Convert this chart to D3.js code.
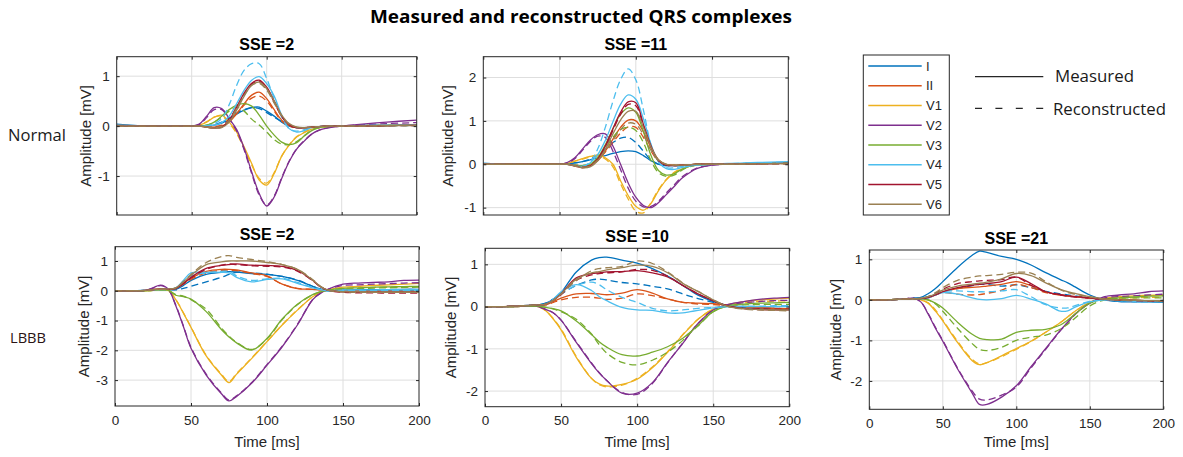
<!DOCTYPE html>
<html><head><meta charset="utf-8">
<script src="https://cdn.jsdelivr.net/npm/d3@7/dist/d3.min.js"></script>
<style>body{margin:0;background:#fff}</style>
</head><body>
<svg id="chart" width="1183" height="457"></svg>
<script>
// ---------- data ----------
const leads = ["I","II","V1","V2","V3","V4","V5","V6"];
const leadColors = ["#0072BD","#D95319","#EDB120","#7E2F8E","#77AC30","#4DBEEE","#A2142F","#9A8052"];
const xTicks = [0,50,100,150,200];
const timeNormal = [0,20,40,50,55,60,65,70,75,80,85,90,95,100,105,110,115,120,125,130,135,140,150,160,180,200];
const timeLBBB = [0,10,20,25,30,35,40,45,50,60,70,75,80,90,100,110,120,130,135,140,150,160,170,180,190,200];

// Normal, SSE = 2
const normalSSE2Measured = [
 [0.04,0,0,0,0,0,0.02,0.06,0.14,0.24,0.32,0.37,0.38,0.3,0.2,0.08,0,-0.03,-0.03,-0.02,-0.01,0,0,0,0.01,0.02],
 [0.02,0,0,0,0,-0.01,-0.02,0,0.08,0.25,0.45,0.62,0.68,0.55,0.33,0.12,0.01,-0.03,-0.03,-0.02,-0.01,0,0,0,0.01,0.02],
 [0.01,0,0,0,0.02,0.08,0.18,0.22,0.08,-0.12,-0.42,-0.75,-1.08,-1.18,-0.95,-0.6,-0.38,-0.22,-0.13,-0.06,-0.03,-0.01,0,0.01,0.02,0.03],
 [0,0,0,0,0.04,0.2,0.37,0.35,0.15,-0.07,-0.45,-0.92,-1.35,-1.6,-1.42,-1.05,-0.71,-0.46,-0.3,-0.16,-0.08,-0.04,0,0.03,0.08,0.12],
 [0,0,0,0,0,0.02,0.08,0.2,0.33,0.42,0.45,0.4,0.22,0,-0.18,-0.32,-0.37,-0.33,-0.2,-0.09,-0.03,-0.01,0,0,0.01,0.02],
 [0.02,0,0,0,0,0,0.02,0.07,0.2,0.45,0.72,0.92,0.99,0.85,0.6,0.22,-0.05,-0.12,-0.09,-0.03,-0.01,0,0,0.01,0.02,0.03],
 [0,0,0,0,0,-0.02,-0.04,-0.02,0.12,0.38,0.66,0.86,0.92,0.78,0.5,0.2,0.03,-0.03,-0.03,-0.02,-0.01,0,0,0,0.01,0.02],
 [0,0,0,0,0,-0.02,-0.04,-0.03,0.08,0.32,0.6,0.82,0.88,0.75,0.5,0.22,0.05,-0.02,-0.03,-0.02,-0.01,0,0,0,0.01,0.02]
];
const normalSSE2Reconstructed = [
 [0.02,0,0,0,0,0.01,0.03,0.08,0.16,0.26,0.33,0.37,0.35,0.27,0.18,0.09,0.01,-0.03,-0.03,-0.02,-0.01,0,0,0.01,0.02,0.02],
 [0.01,0,0,0,0,-0.01,-0.01,0.02,0.1,0.25,0.42,0.56,0.6,0.5,0.3,0.1,0,-0.03,-0.03,-0.02,-0.01,0,0,0.01,0.02,0.02],
 [0,0,0,0,0.02,0.09,0.18,0.2,0.06,-0.15,-0.45,-0.78,-1.05,-1.14,-0.93,-0.6,-0.37,-0.21,-0.12,-0.06,-0.03,-0.01,0,0.01,0.02,0.02],
 [0,0,0,0,0.03,0.17,0.33,0.33,0.14,-0.1,-0.48,-0.95,-1.38,-1.58,-1.4,-1.03,-0.7,-0.45,-0.29,-0.16,-0.08,-0.04,0,0.02,0.05,0.07],
 [0,0,0,0,0,0.02,0.08,0.18,0.3,0.38,0.3,0.14,0.02,-0.12,-0.27,-0.36,-0.37,-0.31,-0.19,-0.08,-0.03,-0.01,0,0,0.01,0.01],
 [0.01,0,0,0,0,0.01,0.05,0.15,0.43,0.82,1.12,1.25,1.25,0.95,0.55,0.18,-0.05,-0.1,-0.07,-0.03,-0.01,0,0,0,0.01,0.01],
 [0,0,0,0,0,-0.02,-0.03,0,0.14,0.38,0.64,0.84,0.9,0.76,0.48,0.19,0.03,-0.03,-0.03,-0.02,-0.01,0,0,0,0.01,0.01],
 [0,0,0,0,0,-0.02,-0.03,0,0.12,0.36,0.62,0.82,0.86,0.72,0.46,0.2,0.04,-0.02,-0.03,-0.02,-0.01,0,0,0,0.01,0.01]
];

// Normal, SSE = 11
const normalSSE11Measured = [
 [0.02,0,0,0,0.01,0.03,0.06,0.1,0.15,0.2,0.25,0.29,0.31,0.29,0.2,0.08,0,-0.03,-0.03,-0.02,-0.01,0,0,0.01,0.02,0.03],
 [0.01,0,0,0,0,-0.02,-0.04,-0.02,0.08,0.3,0.58,0.85,1.02,1.0,0.75,0.38,0.1,0,-0.02,-0.02,-0.01,0,0,0.01,0.02,0.03],
 [0,0,0,0,0.02,0.07,0.13,0.18,0.21,0.15,0,-0.38,-0.72,-0.97,-1.06,-0.9,-0.6,-0.36,-0.2,-0.11,-0.05,-0.02,0,0.01,0.02,0.03],
 [0,0,0,0,0.04,0.15,0.35,0.55,0.68,0.7,0.42,0,-0.43,-0.76,-0.95,-1.0,-0.88,-0.7,-0.52,-0.33,-0.2,-0.1,-0.02,0,0.02,0.04],
 [0.01,0,0,0,0,-0.02,-0.03,0,0.15,0.45,0.82,1.15,1.3,1.2,0.75,0.2,-0.15,-0.25,-0.22,-0.12,-0.05,-0.02,0,0.01,0.02,0.03],
 [0.02,0,0,0,0,-0.03,-0.05,0.03,0.22,0.55,0.98,1.38,1.6,1.5,1.05,0.45,0.05,-0.1,-0.12,-0.08,-0.04,-0.02,0,0.02,0.04,0.06],
 [0,0,0,0,0,-0.04,-0.08,-0.04,0.12,0.42,0.82,1.2,1.44,1.42,0.92,0.42,0.08,-0.02,-0.03,-0.02,-0.01,0,0,0,0.01,0.02],
 [0,0,0,0,0,-0.04,-0.08,-0.06,0.08,0.35,0.7,1.02,1.22,1.22,0.85,0.4,0.1,0,-0.02,-0.02,-0.01,0,0,0,0.01,0.02]
];
const normalSSE11Reconstructed = [
 [0.01,0,0,0,0.01,0.03,0.06,0.12,0.22,0.35,0.5,0.6,0.62,0.5,0.3,0.1,0,-0.03,-0.03,-0.02,-0.01,0,0,0.01,0.02,0.02],
 [0.01,0,0,0,0,-0.02,-0.03,0,0.1,0.28,0.5,0.72,0.86,0.85,0.62,0.3,0.07,-0.01,-0.02,-0.02,-0.01,0,0,0.01,0.02,0.02],
 [0,0,0,0,0.02,0.07,0.12,0.17,0.19,0.12,-0.06,-0.45,-0.8,-1.08,-1.12,-0.88,-0.58,-0.35,-0.19,-0.1,-0.05,-0.02,0,0.01,0.01,0.02],
 [0,0,0,0,0.03,0.13,0.32,0.52,0.65,0.62,0.3,-0.12,-0.55,-0.85,-0.98,-0.97,-0.85,-0.66,-0.48,-0.3,-0.18,-0.09,-0.02,0,0.01,0.03],
 [0.01,0,0,0,0,-0.02,-0.03,0,0.12,0.35,0.62,0.8,0.85,0.78,0.5,0.08,-0.2,-0.28,-0.25,-0.14,-0.06,-0.02,0,0.01,0.02,0.02],
 [0.02,0,0,0,0,-0.03,-0.05,0.05,0.35,0.85,1.45,1.95,2.2,1.95,1.25,0.45,0.05,-0.08,-0.08,-0.05,-0.03,-0.01,0,0.01,0.03,0.05],
 [0,0,0,0,0,-0.03,-0.06,-0.03,0.12,0.4,0.78,1.15,1.38,1.35,0.88,0.4,0.08,-0.02,-0.03,-0.02,-0.01,0,0,0,0.01,0.01],
 [0,0,0,0,0,-0.03,-0.06,-0.04,0.1,0.3,0.55,0.8,0.95,0.92,0.68,0.32,0.08,0,-0.02,-0.02,-0.01,0,0,0,0.01,0.01]
];

// LBBB, SSE = 2
const lbbbSSE2Measured = [
 [0,0,0.01,0.03,0.05,0.05,0.05,0.18,0.35,0.55,0.62,0.64,0.63,0.58,0.55,0.48,0.35,0.15,0.06,0,0.02,0.03,0.04,0.04,0.05,0.05],
 [0,0,0.01,0.04,0.06,0.05,0.08,0.25,0.42,0.65,0.72,0.72,0.7,0.6,0.5,0.22,0.07,0.05,0.03,0.01,0,0,-0.01,-0.01,-0.02,-0.02],
 [0,0,0,0.01,0.03,0.01,-0.3,-0.75,-1.23,-2.19,-2.83,-3.08,-2.8,-2.27,-1.71,-1.15,-0.65,-0.2,-0.06,0.03,0.12,0.15,0.18,0.2,0.22,0.25],
 [0,0,0.01,0.1,0.19,0.06,-0.5,-1.2,-1.93,-2.83,-3.46,-3.7,-3.55,-3.1,-2.5,-1.88,-1.15,-0.3,-0.09,0.05,0.22,0.26,0.28,0.3,0.35,0.36],
 [0,0,0,0.01,0.03,0.02,-0.15,-0.2,-0.28,-0.7,-1.3,-1.55,-1.75,-1.99,-1.6,-0.95,-0.45,-0.13,-0.04,0.02,0.08,0.1,0.12,0.13,0.14,0.15],
 [0,0,0.01,0.03,0.05,0.05,0.1,0.35,0.6,0.62,0.62,0.6,0.45,0.3,0.38,0.4,0.25,0.1,0.04,0,0.02,0.03,0.03,0.04,0.04,0.04],
 [0,0,0.01,0.04,0.06,0.05,0.08,0.25,0.45,0.75,0.85,0.88,0.9,0.86,0.85,0.82,0.68,0.35,0.14,0.02,-0.04,-0.05,-0.05,-0.05,-0.05,-0.05],
 [0,0,0.01,0.04,0.06,0.06,0.1,0.3,0.52,0.88,0.97,1.0,1.0,1.0,0.95,0.88,0.72,0.36,0.15,0.02,-0.03,-0.04,-0.05,-0.05,-0.05,-0.05]
];
const lbbbSSE2Reconstructed = [
 [0,0,0.01,0.02,0.04,0.04,0.03,0.08,0.15,0.3,0.45,0.55,0.62,0.6,0.56,0.48,0.36,0.15,0.06,0,0.01,0.01,0.02,0.02,0.02,0.02],
 [0,0,0.01,0.03,0.05,0.05,0.07,0.22,0.38,0.6,0.68,0.69,0.68,0.58,0.48,0.22,0.08,0.05,0.03,0.01,0,-0.01,-0.02,-0.02,-0.03,-0.03],
 [0,0,0,0.01,0.02,0,-0.3,-0.74,-1.22,-2.17,-2.8,-3.05,-2.78,-2.25,-1.7,-1.14,-0.64,-0.2,-0.06,0.02,0.08,0.1,0.11,0.12,0.13,0.14],
 [0,0,0.01,0.09,0.17,0.05,-0.48,-1.18,-1.9,-2.8,-3.43,-3.67,-3.53,-3.08,-2.48,-1.86,-1.13,-0.3,-0.09,0.04,0.18,0.2,0.22,0.24,0.26,0.27],
 [0,0,0,0.01,0.02,0.01,-0.13,-0.18,-0.3,-0.62,-1.25,-1.52,-1.73,-1.97,-1.62,-0.97,-0.47,-0.14,-0.04,0.01,0.05,0.07,0.09,0.1,0.11,0.12],
 [0,0,0.01,0.02,0.04,0.04,0.08,0.3,0.5,0.6,0.65,0.65,0.5,0.35,0.4,0.42,0.28,0.12,0.05,0,0,0,0,0,0,0],
 [0,0,0.01,0.03,0.05,0.05,0.08,0.24,0.43,0.72,0.86,0.9,0.88,0.84,0.82,0.8,0.66,0.34,0.14,0.02,-0.05,-0.07,-0.07,-0.08,-0.08,-0.08],
 [0,0,0.01,0.03,0.05,0.05,0.1,0.3,0.55,0.95,1.15,1.18,1.12,1.05,0.98,0.88,0.72,0.38,0.16,0.02,-0.04,-0.05,-0.05,-0.05,-0.05,-0.05]
];

// LBBB, SSE = 10
const lbbbSSE10Measured = [
 [0,0,0.01,0.02,0.03,0.04,0.08,0.18,0.33,0.82,1.1,1.16,1.17,1.1,1.03,0.9,0.72,0.5,0.38,0.27,0.12,0.02,-0.03,-0.04,-0.05,-0.06],
 [0,0,0.01,0.01,0.02,0.03,0.04,0.12,0.2,0.3,0.31,0.3,0.28,0.32,0.4,0.32,0.18,0.1,0.09,0.08,0.07,0.03,0,-0.02,-0.04,-0.05],
 [0,0,0,0.01,0.02,0,-0.1,-0.3,-0.55,-1.2,-1.7,-1.83,-1.88,-1.84,-1.72,-1.45,-1.08,-0.67,-0.48,-0.3,-0.06,0.05,0.12,0.16,0.18,0.2],
 [0,0,0,0.01,0.02,0,-0.07,-0.15,-0.32,-0.85,-1.35,-1.57,-1.75,-2.05,-2.05,-1.8,-1.32,-0.87,-0.62,-0.4,-0.08,0.05,0.12,0.17,0.2,0.22],
 [0,0,0,0.01,0.02,0.01,-0.02,-0.05,-0.1,-0.34,-0.66,-0.83,-0.96,-1.14,-1.17,-1.08,-0.95,-0.75,-0.6,-0.45,-0.12,0.02,0.06,0.08,0.09,0.1],
 [0,0,0.01,0.02,0.03,0.04,0.06,0.18,0.35,0.52,0.38,0.24,0.14,-0.02,-0.08,-0.09,-0.15,-0.15,-0.12,-0.09,-0.03,0,0,0,0,0],
 [0,0,0.01,0.02,0.03,0.04,0.06,0.15,0.3,0.68,0.78,0.8,0.82,0.83,0.85,0.8,0.7,0.5,0.4,0.3,0.14,0.01,-0.05,-0.07,-0.08,-0.08],
 [0,0,0.01,0.02,0.03,0.04,0.06,0.15,0.3,0.65,0.8,0.83,0.87,0.92,0.98,0.95,0.8,0.55,0.45,0.36,0.16,0,-0.05,-0.07,-0.08,-0.08]
];
const lbbbSSE10Reconstructed = [
 [0,0,0.01,0.02,0.03,0.04,0.08,0.18,0.3,0.5,0.63,0.65,0.63,0.57,0.54,0.48,0.42,0.3,0.24,0.19,0.1,0.02,-0.02,-0.03,-0.04,-0.05],
 [0,0,0.01,0.01,0.02,0.03,0.04,0.1,0.16,0.22,0.22,0.2,0.17,0.2,0.3,0.26,0.18,0.1,0.08,0.06,0.05,0.02,-0.01,-0.03,-0.04,-0.05],
 [0,0,0,0.01,0.02,0,-0.1,-0.29,-0.53,-1.18,-1.7,-1.85,-1.9,-1.86,-1.7,-1.43,-1.07,-0.66,-0.47,-0.3,-0.06,0.04,0.09,0.12,0.13,0.14],
 [0,0,0,0.01,0.02,0,-0.07,-0.15,-0.32,-0.83,-1.33,-1.56,-1.75,-2.03,-2.08,-1.82,-1.33,-0.86,-0.62,-0.4,-0.08,0.04,0.09,0.12,0.14,0.15],
 [0,0,0,0.01,0.02,0.01,-0.02,-0.06,-0.12,-0.3,-0.65,-0.9,-1.1,-1.32,-1.38,-1.27,-1.08,-0.8,-0.62,-0.46,-0.12,0.02,0.04,0.05,0.05,0.05],
 [0,0,0.01,0.02,0.03,0.04,0.06,0.15,0.3,0.5,0.58,0.52,0.4,0.22,0.1,-0.04,-0.1,-0.08,-0.06,-0.04,-0.02,0,0.01,0.01,0.02,0.02],
 [0,0,0.01,0.02,0.03,0.04,0.06,0.15,0.28,0.62,0.75,0.78,0.8,0.82,0.88,0.86,0.72,0.5,0.4,0.3,0.14,0.01,-0.04,-0.05,-0.06,-0.06],
 [0,0,0.01,0.02,0.03,0.04,0.06,0.15,0.3,0.62,0.85,0.9,0.92,0.95,1.08,1.02,0.82,0.56,0.45,0.36,0.16,0,-0.06,-0.08,-0.09,-0.1]
];

// LBBB, SSE = 21
const lbbbSSE21Measured = [
 [0,0,0.01,0.02,0.04,0.06,0.15,0.28,0.45,0.8,1.1,1.2,1.17,1.07,1.0,0.86,0.67,0.5,0.42,0.32,0.12,0,-0.04,-0.05,-0.05,-0.06],
 [0,0,0.01,0.02,0.03,0.03,0.05,0.12,0.2,0.28,0.31,0.32,0.34,0.38,0.45,0.35,0.2,0.12,0.1,0.08,0.05,0.02,0,-0.01,-0.02,-0.02],
 [0,0,0.01,0.02,0.03,0,-0.08,-0.28,-0.52,-1.05,-1.5,-1.6,-1.55,-1.38,-1.2,-1.02,-0.8,-0.56,-0.42,-0.28,-0.06,0.04,0.08,0.1,0.11,0.12],
 [0,0,0.01,0.03,0.04,-0.05,-0.35,-0.7,-1.02,-1.7,-2.3,-2.58,-2.58,-2.4,-2.12,-1.65,-1.2,-0.75,-0.55,-0.35,-0.08,0.08,0.12,0.15,0.2,0.22],
 [0,0,0.01,0.02,0.03,0.02,0,-0.08,-0.2,-0.55,-0.85,-0.95,-0.98,-0.97,-0.8,-0.75,-0.73,-0.62,-0.5,-0.35,-0.08,0.02,0.05,0.07,0.09,0.1],
 [0,0,0.01,0.02,0.03,0.03,0.05,0.12,0.18,0.14,0.05,0.01,0,0.03,0.11,0.02,-0.1,-0.28,-0.27,-0.18,-0.05,0,-0.02,-0.04,-0.05,-0.05],
 [0,0,0.01,0.02,0.03,0.03,0.06,0.12,0.2,0.3,0.36,0.38,0.4,0.45,0.56,0.4,0.2,0.13,0.1,0.08,0.05,0.02,0,-0.01,-0.02,-0.02],
 [0,0,0.01,0.02,0.03,0.04,0.08,0.15,0.24,0.34,0.39,0.41,0.44,0.52,0.65,0.6,0.42,0.26,0.2,0.16,0.08,0.02,0,-0.01,-0.02,-0.02]
];
const lbbbSSE21Reconstructed = [
 [0,0,0.01,0.02,0.04,0.05,0.08,0.15,0.2,0.28,0.35,0.38,0.38,0.34,0.37,0.3,0.21,0.15,0.12,0.1,0.05,0,-0.03,-0.04,-0.04,-0.04],
 [0,0,0.01,0.02,0.03,0.03,0.05,0.12,0.18,0.14,0.12,0.13,0.16,0.24,0.38,0.3,0.18,0.12,0.1,0.08,0.04,0.01,-0.01,-0.02,-0.03,-0.03],
 [0,0,0.01,0.02,0.03,0,-0.07,-0.25,-0.5,-1.02,-1.47,-1.58,-1.55,-1.4,-1.22,-1.03,-0.8,-0.56,-0.42,-0.28,-0.06,0.02,0.04,0.05,0.06,0.06],
 [0,0,0.01,0.03,0.04,-0.05,-0.33,-0.68,-1.0,-1.68,-2.25,-2.45,-2.47,-2.35,-2.15,-1.68,-1.22,-0.76,-0.56,-0.36,-0.08,0.05,0.08,0.1,0.12,0.14],
 [0,0,0.01,0.02,0.03,0.02,0,-0.1,-0.28,-0.7,-1.08,-1.22,-1.25,-1.17,-1.0,-0.92,-0.87,-0.72,-0.6,-0.45,-0.15,0,0.04,0.05,0.05,0.05],
 [0,0,0.01,0.02,0.03,0.03,0.05,0.12,0.2,0.22,0.2,0.2,0.2,0.22,0.25,0.08,-0.12,-0.2,-0.2,-0.14,-0.04,0,-0.02,-0.03,-0.03,-0.03],
 [0,0,0.01,0.02,0.03,0.03,0.06,0.15,0.26,0.4,0.45,0.47,0.48,0.5,0.56,0.36,0.2,0.12,0.09,0.07,0.04,0.01,-0.01,-0.02,-0.03,-0.03],
 [0,0,0.01,0.02,0.03,0.04,0.08,0.18,0.3,0.48,0.56,0.59,0.6,0.63,0.68,0.66,0.45,0.25,0.18,0.14,0.07,0.02,0,-0.01,-0.02,-0.03]
];

// ---------- layout ----------
const panels = [
 {title:"SSE =2",  time:timeNormal, measured:normalSSE2Measured,  reconstructed:normalSSE2Reconstructed,  yDomain:[-1.78,1.39], yTicks:[-1,0,1],       box:[116.7,56.7,416.7,215],   xLabels:false, yLabelX:86},
 {title:"SSE =11", time:timeNormal, measured:normalSSE11Measured, reconstructed:normalSSE11Reconstructed, yDomain:[-1.17,2.48], yTicks:[-1,0,1,2],     box:[483.3,56.7,788.3,215],   xLabels:false, yLabelX:448},
 {title:"SSE =2",  time:timeLBBB,   measured:lbbbSSE2Measured,    reconstructed:lbbbSSE2Reconstructed,    yDomain:[-3.87,1.48], yTicks:[-3,-2,-1,0,1], box:[115,246.7,419,406],      xLabels:true,  yLabelX:84},
 {title:"SSE =10", time:timeLBBB,   measured:lbbbSSE10Measured,   reconstructed:lbbbSSE10Reconstructed,   yDomain:[-2.37,1.38], yTicks:[-2,-1,0,1],    box:[485,248.3,789.3,406.7],  xLabels:true,  yLabelX:451},
 {title:"SSE =21", time:timeLBBB,   measured:lbbbSSE21Measured,   reconstructed:lbbbSSE21Reconstructed,   yDomain:[-2.7,1.23],  yTicks:[-2,-1,0,1],    box:[869.3,250,1163.3,409.3], xLabels:true,  yLabelX:836}
];

const svg = d3.select("#chart");
const axisColor = "#262626";
const sans = "'Liberation Sans', Arial, Helvetica, sans-serif";
const calib = "'Open Sans', 'Noto Sans', sans-serif";

panels.forEach((p, i) => {
  const [x0, y0, x1, y1] = p.box;
  const x = d3.scaleLinear().domain([0, 200]).range([x0, x1]);
  const y = d3.scaleLinear().domain(p.yDomain).range([y1, y0]);
  const g = svg.append("g");

  g.append("rect").attr("x", x0).attr("y", y0).attr("width", x1 - x0).attr("height", y1 - y0).attr("fill", "#fff");
  // grid
  g.selectAll(null).data(xTicks.slice(1, -1)).join("line")
    .attr("x1", d => x(d)).attr("x2", d => x(d)).attr("y1", y0).attr("y2", y1)
    .attr("stroke", "#dedede").attr("stroke-width", 1);
  g.selectAll(null).data(p.yTicks).join("line")
    .attr("x1", x0).attr("x2", x1).attr("y1", d => y(d)).attr("y2", d => y(d))
    .attr("stroke", "#dedede").attr("stroke-width", 1);

  const clipId = "clip" + i;
  svg.append("clipPath").attr("id", clipId).append("rect")
    .attr("x", x0).attr("y", y0).attr("width", x1 - x0).attr("height", y1 - y0);
  const line = d3.line().x((d, k) => x(p.time[k])).y(d => y(d)).curve(d3.curveCatmullRom.alpha(0.5));
  const lg = g.append("g").attr("clip-path", `url(#${clipId})`).attr("fill", "none");
  leads.forEach((ld, j) => {
    lg.append("path").attr("d", line(p.measured[j]))
      .attr("stroke", leadColors[j]).attr("stroke-width", 1.3);
    lg.append("path").attr("d", line(p.reconstructed[j]))
      .attr("stroke", leadColors[j]).attr("stroke-width", 1.3).attr("stroke-dasharray", "7,4");
  });

  // axes
  const styleAxis = sel => {
    sel.select(".domain").remove();
    sel.selectAll(".tick line").attr("stroke", axisColor);
    sel.selectAll(".tick text").attr("fill", axisColor).style("font-family", sans).style("font-size", "13.5px");
  };
  g.append("g").attr("transform", `translate(${x0},0)`)
    .call(d3.axisLeft(y).tickValues(p.yTicks).tickSize(-3).tickPadding(7).tickFormat(d => String(d)))
    .call(styleAxis);
  g.append("g").attr("transform", `translate(${x1},0)`)
    .call(d3.axisRight(y).tickValues(p.yTicks).tickSize(-3).tickFormat(() => ""))
    .call(styleAxis);
  g.append("g").attr("transform", `translate(0,${y1})`)
    .call(d3.axisBottom(x).tickValues(xTicks).tickSize(-3).tickPadding(9).tickFormat(d => p.xLabels ? String(d) : ""))
    .call(styleAxis);
  g.append("g").attr("transform", `translate(0,${y0})`)
    .call(d3.axisTop(x).tickValues(xTicks).tickSize(-3).tickFormat(() => ""))
    .call(styleAxis);
  g.append("rect").attr("x", x0).attr("y", y0).attr("width", x1 - x0).attr("height", y1 - y0)
    .attr("fill", "none").attr("stroke", axisColor).attr("stroke-width", 1);

  // texts
  g.append("text").attr("x", (x0 + x1) / 2).attr("y", y0 - 6.5).attr("text-anchor", "middle")
    .style("font-family", sans).style("font-size", "16px").style("font-weight", "bold").attr("fill", "#000")
    .text(p.title);
  g.append("text").attr("transform", `translate(${p.yLabelX},${(y0 + y1) / 2}) rotate(-90)`)
    .attr("text-anchor", "middle").attr("dy", "0.35em")
    .style("font-family", sans).style("font-size", "15px").attr("fill", axisColor)
    .text("Amplitude [mV]");
  if (p.xLabels) {
    g.append("text").attr("x", (x0 + x1) / 2).attr("y", 447).attr("text-anchor", "middle")
      .style("font-family", sans).style("font-size", "15px").attr("fill", axisColor)
      .text("Time [ms]");
  }
});

// main title and row labels
svg.append("text").attr("x", 581).attr("y", 23).attr("text-anchor", "middle")
  .style("font-family", calib).style("font-size", "17px").style("font-weight", "bold")
  .attr("textLength", 422).attr("lengthAdjust", "spacingAndGlyphs")
  .text("Measured and reconstructed QRS complexes");
svg.append("text").attr("x", 8).attr("y", 141)
  .style("font-family", calib).style("font-size", "16px").attr("fill", "#1a1a1a")
  .attr("textLength", 58).attr("lengthAdjust", "spacingAndGlyphs").text("Normal");
svg.append("text").attr("x", 10).attr("y", 343)
  .style("font-family", calib).style("font-size", "15px").attr("fill", "#2a1414")
  .attr("textLength", 36).attr("lengthAdjust", "spacingAndGlyphs").text("LBBB");

// lead legend
const lgBox = svg.append("g");
lgBox.append("rect").attr("x", 863.3).attr("y", 55).attr("width", 86).attr("height", 160)
  .attr("fill", "#fff").attr("stroke", axisColor).attr("stroke-width", 1);
leads.forEach((ld, j) => {
  const yy = 66 + j * 19.75;
  lgBox.append("line").attr("x1", 868.3).attr("x2", 921.7).attr("y1", yy).attr("y2", yy)
    .attr("stroke", leadColors[j]).attr("stroke-width", 1.3);
  lgBox.append("text").attr("x", 926).attr("y", yy + 4.6)
    .style("font-family", sans).style("font-size", "13px").attr("fill", axisColor).text(ld);
});

// style legend
svg.append("line").attr("x1", 975).attr("x2", 1043.3).attr("y1", 76.7).attr("y2", 76.7)
  .attr("stroke", axisColor).attr("stroke-width", 1.3);
svg.append("line").attr("x1", 975).attr("x2", 1043.3).attr("y1", 108.3).attr("y2", 108.3)
  .attr("stroke", axisColor).attr("stroke-width", 1.3).attr("stroke-dasharray", "7,13.4");
svg.append("text").attr("x", 1055).attr("y", 81.5)
  .style("font-family", calib).style("font-size", "16px").attr("fill", "#1a1a1a")
  .attr("textLength", 79).attr("lengthAdjust", "spacingAndGlyphs").text("Measured");
svg.append("text").attr("x", 1053).attr("y", 114.5)
  .style("font-family", calib).style("font-size", "16px").attr("fill", "#1a1a1a")
  .attr("textLength", 113).attr("lengthAdjust", "spacingAndGlyphs").text("Reconstructed");
</script>
</body></html>
